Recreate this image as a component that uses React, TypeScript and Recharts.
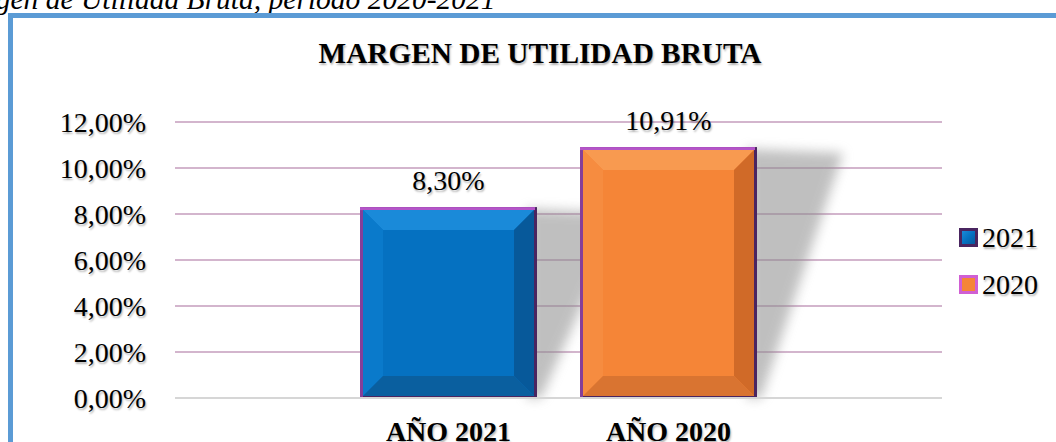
import React from 'react';
import { BarChart, Bar, XAxis, YAxis, CartesianGrid, LabelList, ReferenceLine } from 'recharts';

const categories = ['Margen de utilidad bruta'];
const values2021 = [8.3];
const values2020 = [10.91];
const seriesNames = ['2021', '2020'];
const seriesKeys = ['s2021', 's2020'];
const barLabels = ['AÑO 2021', 'AÑO 2020'];
const yTicks = [0, 2, 4, 6, 8, 10, 12];
const chartTitle = 'MARGEN DE UTILIDAD BRUTA';
const caption = 'Margen de Utilidad Bruta, período 2020-2021';

const data = categories.map((c, i) => ({ name: c, s2021: values2021[i], s2020: values2020[i] }));

const fmt = (v: number) => v.toFixed(2).replace('.', ',') + '%';

const FONT = '"Liberation Serif", "Times New Roman", serif';
const TSHADOW = '1px 2px 2px rgba(0,0,0,0.3)';

const palettes: Record<string, any> = {
  s2021: { base: '#0571c1', top: '#1a8ad9', left: '#0a7acb', right: '#07599a', bottom: '#0a5f9f', edge: '#b455c8', border: '#4a2560', legendBorder: '#4a2560' },
  s2020: { base: '#f58537', top: '#f89a50', left: '#f68c40', right: '#d06a28', bottom: '#d97431', edge: '#b455c8', border: '#4a2560', legendBorder: '#d05fd3' },
};

function makeShape(key: string) {
  return (props: any) => {
    const { x, y, width: w, height: h } = props;
    const p = palettes[key];
    const b = 20;
    const ix = x + 3, iy = y + 3, iw = w - 6, ih = h - 5;
    const fid = `blur-${key}`;
    return (
      <g>
        <defs>
          <filter id={fid} x="-50%" y="-50%" width="200%" height="200%">
            <feGaussianBlur stdDeviation="6" />
          </filter>
        </defs>
        <polygon
          points={`${x + w - 10},${y + h} ${x + w + 4},${y + h} ${x + w + 86},${y + 6} ${x + w - 10},${y + 2}`}
          fill="#8c8c8c"
          opacity={0.55}
          filter={`url(#${fid})`}
        />
        <rect x={x} y={y} width={w} height={h} fill={p.border} />
        <rect x={x} y={y} width={w - 2} height={3} fill={p.edge} />
        <rect x={x} y={y} width={3} height={h} fill={p.edge} opacity={0.55} />
        <rect x={ix} y={iy} width={iw} height={ih} fill={p.base} />
        <polygon points={`${ix},${iy} ${ix + iw},${iy} ${ix + iw - b},${iy + b} ${ix + b},${iy + b}`} fill={p.top} />
        <polygon points={`${ix},${iy} ${ix + b},${iy + b} ${ix + b},${iy + ih - b} ${ix},${iy + ih}`} fill={p.left} />
        <polygon points={`${ix + iw},${iy} ${ix + iw},${iy + ih} ${ix + iw - b},${iy + ih - b} ${ix + iw - b},${iy + b}`} fill={p.right} />
        <polygon points={`${ix},${iy + ih} ${ix + b},${iy + ih - b} ${ix + iw - b},${iy + ih - b} ${ix + iw},${iy + ih}`} fill={p.bottom} />
      </g>
    );
  };
}

const valueLabel = (props: any) => {
  const { x, y, width, value } = props;
  return (
    <text x={x + width / 2} y={y - 17} textAnchor="middle" fontSize={28} fontFamily={FONT} fill="#000" style={{ textShadow: TSHADOW }}>
      {fmt(Number(value))}
    </text>
  );
};

const makeCatLabel = (text: string) => (props: any) => {
  const { x, y, width, height } = props;
  return (
    <text x={x + width / 2} y={y + height + 43} textAnchor="middle" fontSize={28} fontWeight="bold" fontFamily={FONT} fill="#000" style={{ textShadow: TSHADOW }}>
      {text}
    </text>
  );
};

const YTick = (props: any) => {
  const { x, y, payload } = props;
  return (
    <text x={x} y={y} dy="0.35em" textAnchor="end" fontSize={28} fontFamily={FONT} fill="#000" style={{ textShadow: TSHADOW }}>
      {fmt(payload.value)}
    </text>
  );
};

const LegendBox = () => (
  <div style={{ position: 'absolute', left: 959, top: 214, fontFamily: FONT }}>
    {seriesKeys.map((key, i) => {
      const p = palettes[key];
      return (
        <div key={key} style={{ display: 'flex', alignItems: 'center', height: 47 }}>
          <div
            style={{
              width: 13,
              height: 13,
              border: `3px solid ${p.legendBorder}`,
              background: i === 0 ? `linear-gradient(135deg, ${p.top} 0%, ${p.base} 50%, ${p.right} 100%)` : p.base,
              marginRight: 4,
            }}
          />
          <span style={{ fontSize: 28, lineHeight: '28px', color: '#000', fontFamily: FONT, textShadow: TSHADOW }}>{seriesNames[i]}</span>
        </div>
      );
    })}
  </div>
);

export default function App() {
  return (
    <div style={{ position: 'fixed', left: 0, top: 0, width: 1056, height: 442, overflow: 'hidden', background: '#fff', fontFamily: FONT }}>
      <div style={{ position: 'absolute', left: -54, top: -15, fontSize: 29.5, lineHeight: '29px', fontStyle: 'italic', whiteSpace: 'nowrap' }}>
        {caption}
      </div>
      <div style={{ position: 'absolute', left: 8, top: 13, width: 1100, height: 500, border: '5px solid #5b9bd5' }} />
      <div
        style={{
          position: 'absolute',
          left: 0,
          width: 1080,
          top: 39,
          textAlign: 'center',
          fontSize: 29.3,
          lineHeight: '29px',
          fontWeight: 'bold',
          whiteSpace: 'nowrap',
          textShadow: TSHADOW,
        }}
      >
        {chartTitle}
      </div>
      <div style={{ position: 'absolute', left: 0, top: 0 }}>
        <BarChart width={1056} height={442} data={data} margin={{ top: 122, right: 114, bottom: 44, left: 0 }} barSize={177} barGap={43}>
          <CartesianGrid vertical={false} stroke="#d3b5cd" strokeWidth={2} />
          <XAxis dataKey="name" hide />
          <YAxis
            width={175}
            domain={[0, 12]}
            ticks={yTicks}
            tickLine={false}
            axisLine={false}
            tickSize={0}
            tickMargin={29}
            tick={<YTick />}
          />
          <ReferenceLine y={0} stroke="#d6d6d6" strokeWidth={2} />
          <Bar dataKey="s2021" name={seriesNames[0]} fill={palettes.s2021.base} isAnimationActive={false} shape={makeShape('s2021')}>
            <LabelList dataKey="s2021" content={valueLabel} />
            <LabelList dataKey="s2021" content={makeCatLabel(barLabels[0])} />
          </Bar>
          <Bar dataKey="s2020" name={seriesNames[1]} fill={palettes.s2020.base} isAnimationActive={false} shape={makeShape('s2020')}>
            <LabelList dataKey="s2020" content={valueLabel} />
            <LabelList dataKey="s2020" content={makeCatLabel(barLabels[1])} />
          </Bar>
        </BarChart>
      </div>
      <LegendBox />
    </div>
  );
}
